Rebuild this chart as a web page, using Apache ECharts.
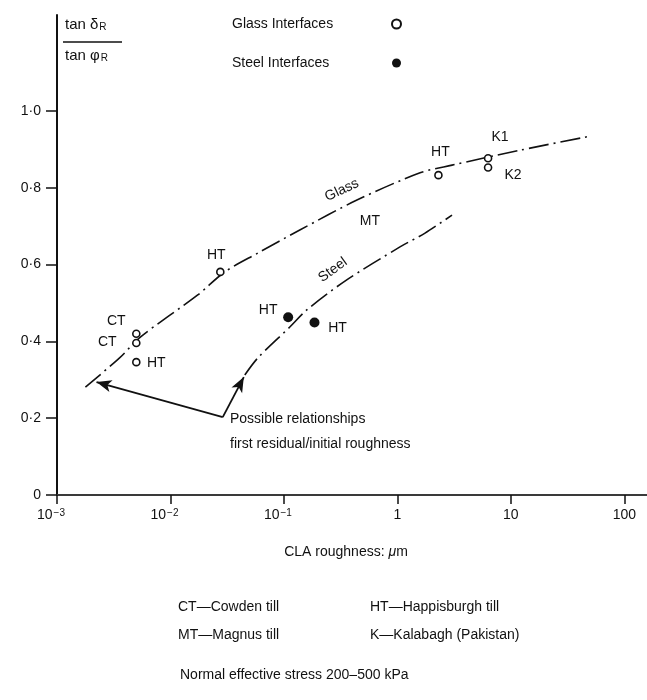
<!DOCTYPE html>
<html><head><meta charset="utf-8">
<script src="https://cdn.jsdelivr.net/npm/echarts@6/dist/echarts.min.js"></script>
<style>html,body{margin:0;padding:0;background:#fff}#c{width:647px;height:700px}</style>
</head><body><div id="c"></div>
<script>
// ---- data ----
const xTicks = [0.001, 0.01, 0.1, 1, 10, 100];
const yTicks = [0, 0.2, 0.4, 0.6, 0.8, 1.0];

const glassX = [0.005, 0.005, 0.005, 0.0275, 2.3, 6.3, 6.3];
const glassY = [0.42, 0.396, 0.346, 0.581, 0.833, 0.877, 0.853];
const glassLabels = ['CT', 'CT', 'HT', 'HT', 'HT', 'K1', 'K2'];

const steelX = [0.109, 0.186];
const steelY = [0.463, 0.449];
const steelLabels = ['HT', 'HT'];

const glassCurveX = [0.00178, 0.00356, 0.00546, 0.0174, 0.0301, 0.0589, 0.138, 0.44, 1.585, 3.03, 12.1, 51];
const glassCurveY = [0.281, 0.357, 0.412, 0.521, 0.581, 0.630, 0.690, 0.768, 0.839, 0.859, 0.898, 0.935];

const steelCurveX = [0.0452, 0.0589, 0.1127, 0.159, 0.345, 1.054, 1.753, 3.03];
const steelCurveY = [0.3125, 0.357, 0.4375, 0.482, 0.557, 0.646, 0.682, 0.729];

const curveNames = ['Glass', 'MT', 'Steel'];
const curveNameX = [0.324, 0.573, 0.270];
const curveNameY = [0.794, 0.7135, 0.586];

const arrowCorner = [0.0289, 0.203];
const arrowTips = [[0.00223, 0.294], [0.0443, 0.307]];

const annotationLines = ['Possible relationships', 'first residual/initial roughness'];
const keyLines = [['CT—Cowden till', 'HT—Happisburgh till'], ['MT—Magnus till', 'K—Kalabagh (Pakistan)']];
const footnote = 'Normal effective stress 200–500 kPa';

// ---- styles / layout ----
const INK = '#111';
const FONT = '"Liberation Sans", Arial, sans-serif';
const glassLabelOffsets = [[-20, -13], [-29, -1], [20, 1], [-4, -17], [2, -23], [12, -21], [25, 8]];
const steelLabelOffsets = [[-20, -7], [23, 6]];
const curveNameRot = [25, 0, 36];
const dashDot = [20, 5, 2, 5];

const pair = (xs, ys) => xs.map((x, i) => [x, ys[i]]);
const lbl = { fontSize: 14, color: INK, fontFamily: FONT, textBorderWidth: 0, textShadowBlur: 0, opacity: 1 };

function pointData(xs, ys, labels, offs) {
  return xs.map((x, i) => ({
    value: [x, ys[i]],
    label: Object.assign({ show: true, formatter: labels[i], position: 'inside', offset: offs[i] }, lbl)
  }));
}

const chart = echarts.init(document.getElementById('c'), null, { renderer: 'canvas' });

const option = {
  backgroundColor: '#fff',
  animation: false,
  textStyle: { fontFamily: FONT, color: INK },
  grid: { left: 57, right: 0, top: 15, bottom: 205, containLabel: false },
  legend: {
    orient: 'vertical', left: 227, top: 12, align: 'right', itemGap: 25,
    itemWidth: 9, itemHeight: 9, selectedMode: false,
    formatter: n => '{t|' + n + '}',
    textStyle: { fontSize: 14, color: INK, fontFamily: FONT,
      rich: { t: { fontSize: 14, color: INK, fontFamily: FONT, width: 155, align: 'left' } } },
    data: ['Glass Interfaces', 'Steel Interfaces']
  },
  xAxis: {
    type: 'log', logBase: 10, min: 0.001, max: 158.49,
    name: 'CLA roughness: {i|μ}m', nameLocation: 'middle', nameGap: 50,
    nameTextStyle: { fontSize: 14, color: INK, fontFamily: FONT, padding: [0, 12, 0, 0],
      rich: { i: { fontSize: 14, fontStyle: 'italic', fontFamily: FONT, color: INK } } },
    axisLine: { show: true, onZero: false, lineStyle: { color: '#3a3a3a', width: 2 } },
    axisTick: { show: true, inside: false, length: 9, customValues: xTicks, lineStyle: { color: INK, width: 1.5 } },
    splitLine: { show: false },
    axisLabel: {
      customValues: xTicks, margin: 13, fontSize: 14, color: INK, fontFamily: FONT,
      formatter: v => {
        const e = Math.round(Math.log10(v));
        if (e < 0) return '{b|10}{s|−' + (-e) + '}';
        return '{b|' + Math.pow(10, e) + '}';
      },
      rich: {
        b: { fontSize: 14, color: INK, fontFamily: FONT },
        s: { fontSize: 10, color: INK, fontFamily: FONT, verticalAlign: 'top', padding: [0, 12, 0, 1] }
      }
    }
  },
  yAxis: {
    type: 'value', min: 0, max: 1.25,
    axisLine: { show: true, onZero: false, lineStyle: { color: INK, width: 2 } },
    axisTick: { show: true, inside: false, length: 11, customValues: yTicks, lineStyle: { color: INK, width: 1.5 } },
    splitLine: { show: false },
    axisLabel: {
      customValues: yTicks, margin: 16, fontSize: 14, color: INK, fontFamily: FONT,
      formatter: v => v === 0 ? '0' : v.toFixed(1).replace('.', '·')
    }
  },
  series: [
    {
      name: 'glassCurve', type: 'line', data: pair(glassCurveX, glassCurveY), smooth: 0.3,
      symbol: 'none', silent: true,
      lineStyle: { color: INK, width: 1.6, type: dashDot }, z: 2
    },
    {
      name: 'steelCurve', type: 'line', data: pair(steelCurveX, steelCurveY), smooth: 0.3,
      symbol: 'none', silent: true,
      lineStyle: { color: INK, width: 1.6, type: dashDot }, z: 2,
      markLine: {
        silent: true, symbol: ['none', 'arrow'], symbolSize: [9, 15], animation: false,
        label: { show: false },
        lineStyle: { color: INK, width: 1.8, type: 'solid' },
        data: arrowTips.map(t => [{ coord: arrowCorner }, { coord: t }])
      }
    },
    {
      name: 'Glass Interfaces', type: 'scatter', symbol: 'circle', symbolSize: 7,
      itemStyle: { color: '#fff', borderColor: INK, borderWidth: 1.6, opacity: 1 },
      data: pointData(glassX, glassY, glassLabels, glassLabelOffsets), z: 4
    },
    {
      name: 'Steel Interfaces', type: 'scatter', symbol: 'circle', symbolSize: 10,
      itemStyle: { color: INK, opacity: 1 },
      data: pointData(steelX, steelY, steelLabels, steelLabelOffsets), z: 4
    },
    {
      name: 'curveNames', type: 'scatter', symbol: 'circle', symbolSize: 1, silent: true,
      itemStyle: { color: 'rgba(0,0,0,0)', opacity: 1 },
      data: curveNames.map((n, i) => ({
        value: [curveNameX[i], curveNameY[i]],
        label: Object.assign({ show: true, formatter: n, position: 'inside', rotate: curveNameRot[i] }, lbl)
      })), z: 5
    }
  ],
  graphic: [
    {
      type: 'text', left: 65, top: 17,
      style: { text: '{a|tan δ}{s|R}', fill: INK,
        rich: { a: { fontSize: 15, fontFamily: FONT, fill: INK }, s: { fontSize: 10, fontFamily: FONT, fill: INK, verticalAlign: 'bottom', padding: [0, 0, 0, 1] } } }
    },
    { type: 'line', shape: { x1: 63, y1: 42, x2: 122, y2: 42 }, style: { stroke: INK, lineWidth: 1.5 } },
    {
      type: 'text', left: 65, top: 48,
      style: { text: '{a|tan φ}{s|R}', fill: INK,
        rich: { a: { fontSize: 15, fontFamily: FONT, fill: INK }, s: { fontSize: 10, fontFamily: FONT, fill: INK, verticalAlign: 'bottom', padding: [0, 0, 0, 1] } } }
    },
    { type: 'text', left: 230, top: 412, style: { text: annotationLines[0], fontSize: 14, fontFamily: FONT, fill: INK } },
    { type: 'text', left: 230, top: 437, style: { text: annotationLines[1], fontSize: 14, fontFamily: FONT, fill: INK } },
    { type: 'text', left: 178, top: 600, style: { text: keyLines[0][0], fontSize: 14, fontFamily: FONT, fill: INK } },
    { type: 'text', left: 370, top: 600, style: { text: keyLines[0][1], fontSize: 14, fontFamily: FONT, fill: INK } },
    { type: 'text', left: 178, top: 628, style: { text: keyLines[1][0], fontSize: 14, fontFamily: FONT, fill: INK } },
    { type: 'text', left: 370, top: 628, style: { text: keyLines[1][1], fontSize: 14, fontFamily: FONT, fill: INK } },
    { type: 'text', left: 180, top: 668, style: { text: footnote, fontSize: 14, fontFamily: FONT, fill: INK } }
  ]
};
chart.setOption(option);
</script>
</body></html>
